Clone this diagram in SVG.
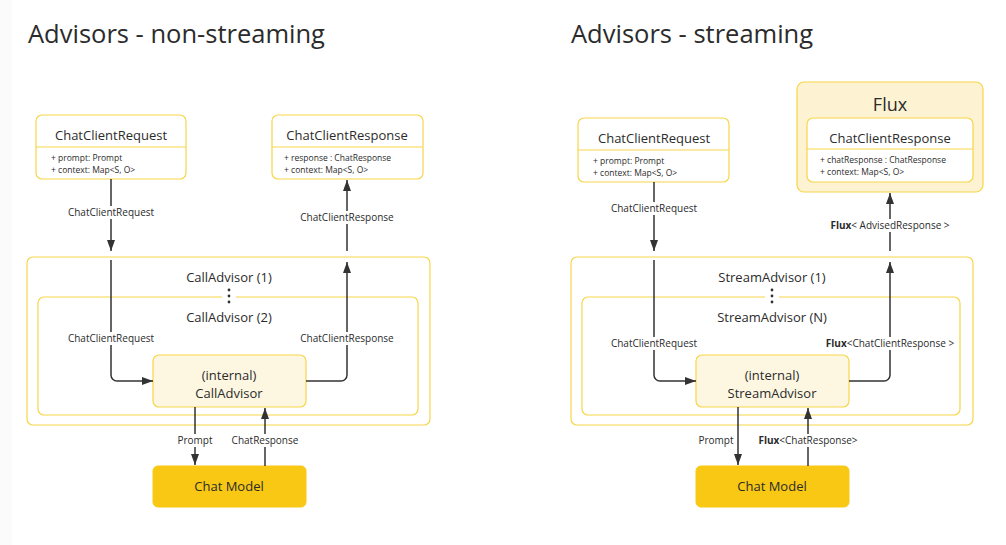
<svg xmlns="http://www.w3.org/2000/svg" width="1006" height="545" viewBox="0 0 1006 545">
<defs>
<style>
text{font-family:"Open Sans","Liberation Sans",sans-serif;fill:#2b2b2b}
.title{font-size:25.5px}
.hd{font-size:13px;text-anchor:middle}
.attr{font-size:8.5px}
.lbl{font-size:10px;text-anchor:middle}
.nm{font-size:13px;text-anchor:middle}
.b{font-weight:bold}
.box{fill:#fff;stroke:#f7d64a;stroke-width:1.2}
.grp{fill:none;stroke:#f7d64a;stroke-width:1.2}
.int{fill:#fdf7e2;stroke:#f7d64a;stroke-width:1.2}
.flux{fill:#fdf3d2;stroke:#f7d64a;stroke-width:1.2}
.model{fill:#f8c814;stroke:#f8c814}
.div{stroke:#f7d64a;stroke-width:1.2}
.ln{fill:none;stroke:#333;stroke-width:1.5;marker-end:url(#ah)}
.lbg{fill:#fff}
</style>
<marker id="ah" viewBox="0 0 11 8" refX="11" refY="4" markerWidth="11" markerHeight="8" markerUnits="userSpaceOnUse" orient="auto">
<path d="M0,0 L11,4 L0,8 z" fill="#333"/>
</marker>
</defs>
<rect x="0" y="0" width="1006" height="545" fill="#fff"/>
<rect x="0" y="0" width="12" height="545" fill="#fbfbfb"/>
<text class="title" x="28" y="43">Advisors - non-streaming</text>
<text class="title" x="571" y="43">Advisors - streaming</text>

<!-- LEFT -->
<g id="callAdvisor1">
<rect class="grp" x="27" y="257" width="403" height="168" rx="6"/>
<text class="nm" x="229" y="282">CallAdvisor (1)</text>
</g>
<g id="callAdvisor2">
<path class="grp" d="M222,297 H44 a6,6 0 0 0 -6,6 V409 a6,6 0 0 0 6,6 H412 a6,6 0 0 0 6,-6 V303 a6,6 0 0 0 -6,-6 H236"/>
<text class="nm" x="229" y="322">CallAdvisor (2)</text>
<circle cx="229" cy="290" r="1.4" fill="#333"/>
<circle cx="229" cy="296" r="1.4" fill="#333"/>
<circle cx="229" cy="302" r="1.4" fill="#333"/>
</g>
<g id="reqL">
<rect class="box" x="36" y="115" width="150" height="64" rx="6"/>
<line class="div" x1="36" y1="147" x2="186" y2="147"/>
<text class="hd" x="111" y="140">ChatClientRequest</text>
<text class="attr" x="51" y="161">+ prompt: Prompt</text>
<text class="attr" x="51" y="173">+ context: Map&lt;S, O&gt;</text>
</g>
<g id="respL">
<rect class="box" x="272" y="115" width="151" height="64" rx="6"/>
<line class="div" x1="272" y1="147" x2="423" y2="147"/>
<text class="hd" x="347" y="140">ChatClientResponse</text>
<text class="attr" x="284" y="161">+ response : ChatResponse</text>
<text class="attr" x="284" y="173">+ context: Map&lt;S, O&gt;</text>
</g>
<g id="internalL">
<rect class="int" x="153" y="355" width="153" height="52" rx="6"/>
<text class="nm" x="229" y="380">(internal)</text>
<text class="nm" x="229" y="398">CallAdvisor</text>
</g>
<g id="modelL">
<rect class="model" x="153" y="466" width="153" height="41" rx="5"/>
<text class="nm" x="229" y="491">Chat Model</text>
</g>

<!-- RIGHT -->
<g id="streamAdvisor1">
<rect class="grp" x="571" y="257" width="402" height="168" rx="6"/>
<text class="nm" x="772" y="282">StreamAdvisor (1)</text>
</g>
<g id="streamAdvisorN">
<path class="grp" d="M765,297 H588 a6,6 0 0 0 -6,6 V409 a6,6 0 0 0 6,6 H954 a6,6 0 0 0 6,-6 V303 a6,6 0 0 0 -6,-6 H779"/>
<text class="nm" x="772" y="322">StreamAdvisor (N)</text>
<circle cx="772" cy="290" r="1.4" fill="#333"/>
<circle cx="772" cy="296" r="1.4" fill="#333"/>
<circle cx="772" cy="302" r="1.4" fill="#333"/>
</g>
<g id="reqR">
<rect class="box" x="578" y="118" width="151" height="64" rx="6"/>
<line class="div" x1="578" y1="150" x2="729" y2="150"/>
<text class="hd" x="654" y="143">ChatClientRequest</text>
<text class="attr" x="593" y="164">+ prompt: Prompt</text>
<text class="attr" x="593" y="176">+ context: Map&lt;S, O&gt;</text>
</g>
<g id="fluxR">
<rect class="flux" x="797" y="82" width="186" height="110" rx="7"/>
<text x="890" y="111" style="font-size:18px;text-anchor:middle">Flux</text>
<rect class="box" x="807" y="118" width="166" height="64" rx="6"/>
<line class="div" x1="807" y1="149" x2="973" y2="149"/>
<text class="hd" x="890" y="143">ChatClientResponse</text>
<text class="attr" x="820" y="163">+ chatResponse : ChatResponse</text>
<text class="attr" x="820" y="175">+ context: Map&lt;S, O&gt;</text>
</g>
<g id="internalR">
<rect class="int" x="696" y="355" width="153" height="52" rx="6"/>
<text class="nm" x="772" y="380">(internal)</text>
<text class="nm" x="772" y="398">StreamAdvisor</text>
</g>
<g id="modelR">
<rect class="model" x="696" y="466" width="153" height="41" rx="5"/>
<text class="nm" x="772" y="491">Chat Model</text>
</g>

<g id="connectors">
<!-- left -->
<line class="ln" x1="111" y1="179" x2="111" y2="251"/>
<rect class="lbg" x="66" y="206" width="90" height="13"/>
<text class="lbl" x="111" y="216">ChatClientRequest</text>
<line class="ln" x1="347" y1="251" x2="347" y2="180"/>
<rect class="lbg" x="298" y="211" width="98" height="13"/>
<text class="lbl" x="347" y="221">ChatClientResponse</text>
<path class="ln" d="M111,260 V375 a6,6 0 0 0 6,6 H153"/>
<rect class="lbg" x="66" y="332" width="90" height="13"/>
<text class="lbl" x="111" y="342">ChatClientRequest</text>
<path class="ln" d="M306,381 H341 a6,6 0 0 0 6,-6 V262"/>
<rect class="lbg" x="298" y="332" width="98" height="13"/>
<text class="lbl" x="347" y="342">ChatClientResponse</text>
<line class="ln" x1="195" y1="407" x2="195" y2="465"/>
<rect class="lbg" x="176" y="434" width="38" height="13"/>
<text class="lbl" x="195" y="444">Prompt</text>
<line class="ln" x1="265" y1="466" x2="265" y2="408"/>
<rect class="lbg" x="232" y="434" width="66" height="13"/>
<text class="lbl" x="265" y="444">ChatResponse</text>
<!-- right -->
<line class="ln" x1="654" y1="182" x2="654" y2="251"/>
<rect class="lbg" x="609" y="202" width="90" height="13"/>
<text class="lbl" x="654" y="212">ChatClientRequest</text>
<line class="ln" x1="890" y1="251" x2="890" y2="193"/>
<rect class="lbg" x="829" y="219" width="122" height="13"/>
<text class="lbl" x="890" y="229"><tspan class="b">Flux</tspan>&lt; AdvisedResponse &gt;</text>
<path class="ln" d="M654,260 V375 a6,6 0 0 0 6,6 H696"/>
<rect class="lbg" x="609" y="337" width="90" height="13"/>
<text class="lbl" x="654" y="347">ChatClientRequest</text>
<path class="ln" d="M849,381 H884 a6,6 0 0 0 6,-6 V262"/>
<rect class="lbg" x="824" y="337" width="132" height="13"/>
<text class="lbl" x="890" y="347"><tspan class="b">Flux</tspan>&lt;ChatClientResponse &gt;</text>
<line class="ln" x1="738" y1="407" x2="738" y2="465"/>
<rect class="lbg" x="697" y="434" width="36" height="13"/>
<text class="lbl" x="716" y="444">Prompt</text>
<line class="ln" x1="808" y1="466" x2="808" y2="408"/>
<rect class="lbg" x="758" y="434" width="100" height="13"/>
<text class="lbl" x="808" y="444"><tspan class="b">Flux</tspan>&lt;ChatResponse&gt;</text>
</g>
</svg>
